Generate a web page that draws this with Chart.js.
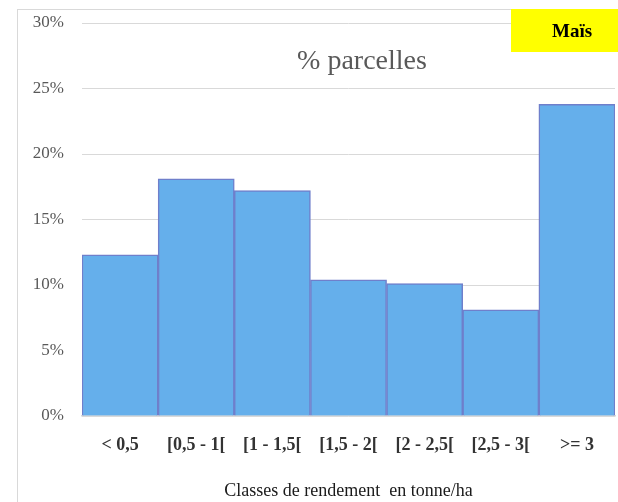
<!DOCTYPE html>
<html>
<head>
<meta charset="utf-8">
<script src="https://cdn.jsdelivr.net/npm/chart.js@4/dist/chart.umd.min.js"></script>
<style>
  html, body { margin: 0; padding: 0; background: #ffffff; }
  #wrap { width: 618px; height: 502px; position: relative; }
</style>
</head>
<body>
<div id="wrap"><canvas id="c" width="618" height="502"></canvas></div>
<script>
// Yield classes (t/ha) and share of plots in each class (%)
const categories = ['< 0,5', '[0,5 - 1[', '[1 - 1,5[', '[1,5 - 2[', '[2 - 2,5[', '[2,5 - 3[', '>= 3'];
const parcelShare = [12.3, 18.1, 17.2, 10.4, 10.1, 8.1, 23.8];
const yTicks = [0, 5, 10, 15, 20, 25, 30];

const chartTitle = '% parcelles';
const cropLabel = 'Maïs';
const xAxisTitle = 'Classes de rendement  en tonne/ha';

const serif = '"Liberation Serif", "Times New Roman", serif';

// Frame, chart title and crop tag drawn on the canvas
const decorations = {
  id: 'decorations',
  beforeDraw(chart) {
    const ctx = chart.ctx;
    ctx.save();
    ctx.fillStyle = '#ffffff';
    ctx.fillRect(0, 0, chart.width, chart.height);
    ctx.strokeStyle = '#d9d9d9';
    ctx.lineWidth = 1;
    ctx.strokeRect(17.5, 9.5, chart.width + 20, chart.height + 20);
    ctx.restore();
  },
  afterDraw(chart) {
    const ctx = chart.ctx;
    ctx.save();
    // chart title inside the plot area
    ctx.font = '28px ' + serif;
    ctx.fillStyle = '#595959';
    ctx.textAlign = 'center';
    ctx.textBaseline = 'alphabetic';
    ctx.fillText(chartTitle, 362, 69);
    // crop tag, top right
    ctx.fillStyle = '#ffff00';
    ctx.fillRect(511, 9, chart.width - 511, 43);
    ctx.font = 'bold 19px ' + serif;
    ctx.fillStyle = '#000000';
    ctx.fillText(cropLabel, 572, 37);
    ctx.restore();
  }
};

new Chart(document.getElementById('c'), {
  type: 'bar',
  data: {
    labels: categories,
    datasets: [{
      data: parcelShare,
      backgroundColor: '#65afeb',
      borderColor: '#6f7fcb',
      borderWidth: 1.5,
      barPercentage: 1,
      categoryPercentage: 1
    }]
  },
  options: {
    responsive: false,
    animation: false,
    devicePixelRatio: 1,
    layout: { padding: { top: 23, right: 3, left: 0, bottom: 0 } },
    plugins: {
      legend: { display: false },
      tooltip: { enabled: false }
    },
    scales: {
      x: {
        grid: { display: false, drawTicks: false },
        border: { display: true, color: '#d9d9d9', width: 1.5 },
        ticks: {
          color: '#333333',
          font: { family: serif, size: 18, weight: 'bold' },
          padding: 19,
          maxRotation: 0,
          autoSkip: false
        },
        title: {
          display: true,
          text: xAxisTitle,
          color: '#1a1a1a',
          font: { family: serif, size: 18 },
          padding: { top: 0, bottom: 0 }
        },
        afterFit(scale) {
          scale.height = 86;
          scale.paddingLeft = 0;
          scale.paddingRight = 0;
        }
      },
      y: {
        min: 0,
        max: 30,
        afterBuildTicks(scale) { scale.ticks = yTicks.map(v => ({ value: v })); },
        grid: { color: '#d9d9d9', lineWidth: 1, drawTicks: false },
        border: { display: false },
        ticks: {
          color: '#595959',
          font: { family: serif, size: 17 },
          padding: 18,
          callback: v => v + '%'
        },
        afterFit(scale) {
          scale.width = 82;
          scale.paddingTop = 0;
          scale.paddingBottom = 0;
        }
      }
    }
  },
  plugins: [decorations]
});
</script>
</body>
</html>
